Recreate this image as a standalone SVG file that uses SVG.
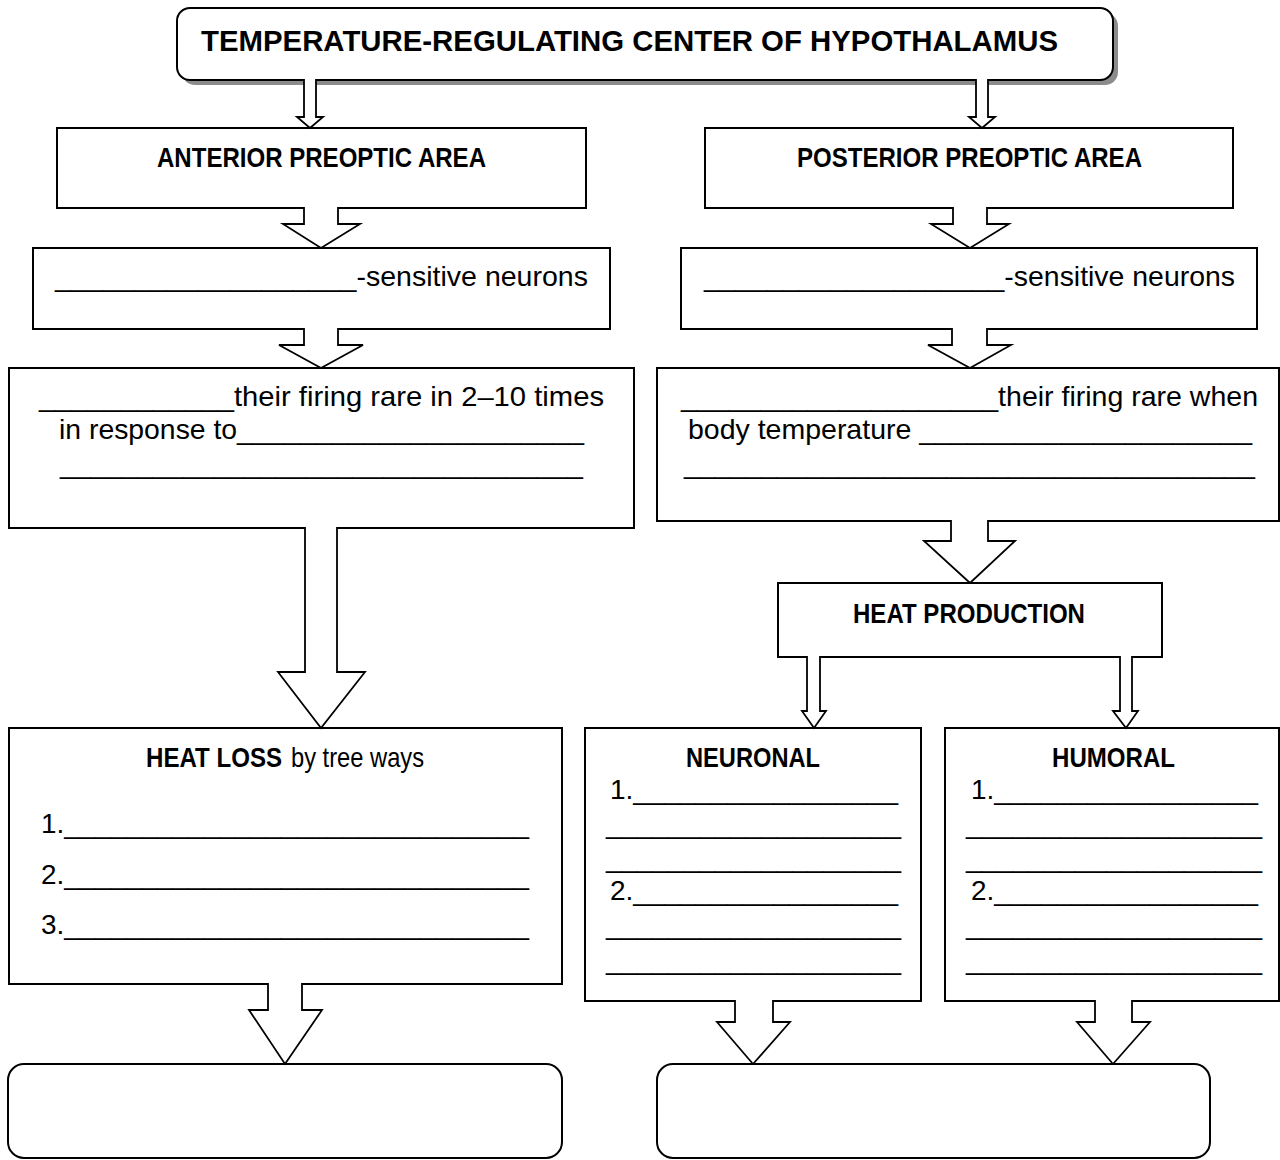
<svg xmlns="http://www.w3.org/2000/svg" width="1280" height="1160" viewBox="0 0 1280 1160">
  <style>
    .box { fill: #ffffff; stroke: #000000; stroke-width: 2; }
    .shadow { fill: #8c8c8c; stroke: none; }
    .arrow { fill: #ffffff; stroke: #000000; stroke-width: 1.8; stroke-linejoin: miter; }
    .t { font-family: "Liberation Sans", Arial, sans-serif; fill: #000000; }
    .title { font-size: 30px; font-weight: bold; }
    .head { font-size: 28px; font-weight: bold; }
    .body { font-size: 28px; }
    .list { font-size: 28px; }
  </style>

  <rect width="1280" height="1160" fill="#ffffff"/>

  <!-- title -->
  <g id="center">
    <rect class="shadow" x="182" y="13" width="936" height="72" rx="13"/>
    <rect class="box" x="177" y="8" width="936" height="72" rx="13"/>
    <text class="t title" x="201" y="51" textLength="857" lengthAdjust="spacingAndGlyphs">TEMPERATURE-REGULATING CENTER OF HYPOTHALAMUS</text>
  </g>

  <g id="anterior">
    <rect class="box" x="57" y="128" width="529" height="80"/>
    <text class="t head" x="157" y="167" textLength="329" lengthAdjust="spacingAndGlyphs">ANTERIOR PREOPTIC AREA</text>
  </g>

  <g id="posterior">
    <rect class="box" x="705" y="128" width="528" height="80"/>
    <text class="t head" x="797" y="167" textLength="345" lengthAdjust="spacingAndGlyphs">POSTERIOR PREOPTIC AREA</text>
  </g>

  <g id="sensitive-left">
    <rect class="box" x="33" y="248" width="577" height="81"/>
    <text class="t body" x="55" y="286" textLength="533" lengthAdjust="spacingAndGlyphs">___________________-sensitive neurons</text>
  </g>

  <g id="sensitive-right">
    <rect class="box" x="681" y="248" width="576" height="81"/>
    <text class="t body" x="704" y="286" textLength="531" lengthAdjust="spacingAndGlyphs">___________________-sensitive neurons</text>
  </g>

  <g id="firing-left">
    <rect class="box" x="9" y="368" width="625" height="160"/>
    <text class="t body" x="39" y="406" textLength="565" lengthAdjust="spacingAndGlyphs">____________their firing rare in 2–10 times</text>
    <text class="t body" x="59" y="439" textLength="525" lengthAdjust="spacingAndGlyphs">in response to______________________</text>
    <text class="t body" x="60" y="473" textLength="523" lengthAdjust="spacingAndGlyphs">__________________________________</text>
  </g>

  <g id="firing-right">
    <rect class="box" x="657" y="368" width="622" height="153"/>
    <text class="t body" x="681" y="406" textLength="577" lengthAdjust="spacingAndGlyphs">____________________their firing rare when</text>
    <text class="t body" x="688" y="439" textLength="564" lengthAdjust="spacingAndGlyphs">body temperature _____________________</text>
    <text class="t body" x="684" y="473" textLength="571" lengthAdjust="spacingAndGlyphs">_____________________________________</text>
  </g>

  <g id="heat-production">
    <rect class="box" x="778" y="583" width="384" height="74"/>
    <text class="t head" x="853" y="623" textLength="232" lengthAdjust="spacingAndGlyphs">HEAT PRODUCTION</text>
  </g>

  <g id="heat-loss">
    <rect class="box" x="9" y="728" width="553" height="256"/>
    <text class="t head" x="146" y="767" textLength="136" lengthAdjust="spacingAndGlyphs">HEAT LOSS</text>
    <text class="t list" x="291" y="767" textLength="133" lengthAdjust="spacingAndGlyphs">by tree ways</text>
    <text class="t list" x="41" y="833" textLength="488" lengthAdjust="spacingAndGlyphs">1.______________________________</text>
    <text class="t list" x="41" y="884" textLength="488" lengthAdjust="spacingAndGlyphs">2.______________________________</text>
    <text class="t list" x="41" y="934" textLength="488" lengthAdjust="spacingAndGlyphs">3.______________________________</text>
  </g>

  <g id="neuronal">
    <rect class="box" x="585" y="728" width="336" height="273"/>
    <text class="t head" x="686" y="767" textLength="134" lengthAdjust="spacingAndGlyphs">NEURONAL</text>
    <text class="t list" x="610" y="799" textLength="288" lengthAdjust="spacingAndGlyphs">1._________________</text>
    <text class="t list" x="606" y="833" textLength="295" lengthAdjust="spacingAndGlyphs">___________________</text>
    <text class="t list" x="606" y="867" textLength="295" lengthAdjust="spacingAndGlyphs">___________________</text>
    <text class="t list" x="610" y="900" textLength="288" lengthAdjust="spacingAndGlyphs">2._________________</text>
    <text class="t list" x="606" y="934" textLength="295" lengthAdjust="spacingAndGlyphs">___________________</text>
    <text class="t list" x="606" y="969" textLength="295" lengthAdjust="spacingAndGlyphs">___________________</text>
  </g>

  <g id="humoral">
    <rect class="box" x="945" y="728" width="334" height="273"/>
    <text class="t head" x="1052" y="767" textLength="123" lengthAdjust="spacingAndGlyphs">HUMORAL</text>
    <text class="t list" x="971" y="799" textLength="287" lengthAdjust="spacingAndGlyphs">1._________________</text>
    <text class="t list" x="966" y="833" textLength="296" lengthAdjust="spacingAndGlyphs">___________________</text>
    <text class="t list" x="966" y="867" textLength="296" lengthAdjust="spacingAndGlyphs">___________________</text>
    <text class="t list" x="971" y="900" textLength="287" lengthAdjust="spacingAndGlyphs">2._________________</text>
    <text class="t list" x="966" y="934" textLength="296" lengthAdjust="spacingAndGlyphs">___________________</text>
    <text class="t list" x="966" y="969" textLength="296" lengthAdjust="spacingAndGlyphs">___________________</text>
  </g>

  <g id="outcome-left">
    <rect class="box" x="8" y="1064" width="554" height="94" rx="16"/>
  </g>

  <g id="outcome-right">
    <rect class="box" x="657" y="1064" width="553" height="94" rx="16"/>
  </g>

  <!-- block arrows; each path starts 1px inside its source box so the white fill breaks the box edge -->
  <g id="connectors">
    <path class="arrow" d="M304,79 V117 H297 L310,128 L323,117 H316 V79"/>
    <path class="arrow" d="M976,79 V117 H969 L982,128 L995,117 H988 V79"/>
    <path class="arrow" d="M304,207 V224 H283 L321,248 L360,224 H338 V207"/>
    <path class="arrow" d="M953,207 V224 H931 L970,248 L1009,224 H987 V207"/>
    <path class="arrow" d="M304,328 V345 H279 L321,368 L363,345 H338 V328"/>
    <path class="arrow" d="M952,328 V345 H928 L970,368 L1011,345 H987 V328"/>
    <path class="arrow" d="M305,527 V672 H278 L321,728 L365,672 H337 V527"/>
    <path class="arrow" d="M951,520 V541 H924 L970,583 L1015,541 H988 V520"/>
    <path class="arrow" d="M807,656 V711 H802 L814,728 L826,711 H820 V656"/>
    <path class="arrow" d="M1120,656 V711 H1113 L1126,728 L1138,711 H1132 V656"/>
    <path class="arrow" d="M268,983 V1010 H249 L285,1064 L322,1010 H302 V983"/>
    <path class="arrow" d="M735,1000 V1022 H717 L753,1064 L790,1022 H773 V1000"/>
    <path class="arrow" d="M1095,1000 V1022 H1077 L1113,1064 L1150,1022 H1132 V1000"/>
  </g>
</svg>
